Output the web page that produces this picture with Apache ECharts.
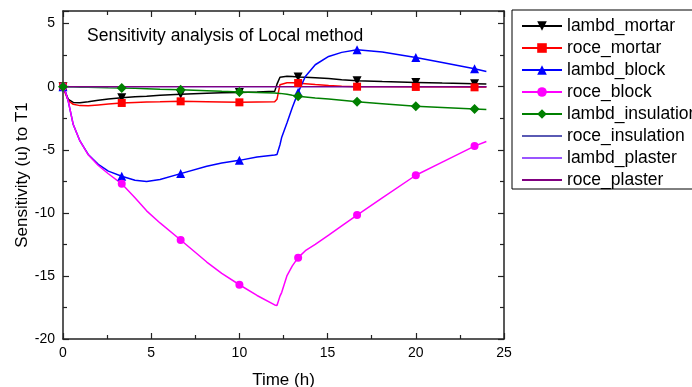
<!DOCTYPE html>
<html>
<head>
<meta charset="utf-8">
<title>Sensitivity analysis of Local method</title>
<script src="https://cdn.jsdelivr.net/npm/echarts@6/dist/echarts.min.js"></script>
<style>
html, body { margin: 0; padding: 0; background: #fff; }
#echart6 { width: 692px; height: 387px; }
</style>
</head>
<body>
<div id="echart6"></div>
<script>
// time (h) of the sampled points, shared by the marked series
var times = [0, 0.15, 0.3, 0.58, 0.96, 1.43, 2.0, 2.57, 3.33, 4.08, 4.74, 5.5, 6.67, 8.15, 9, 10, 11,
	12.0, 12.13, 12.3, 12.4, 12.7, 13.0, 13.33, 13.74, 14.3, 15.06, 15.8, 16.67, 18.1, 20, 21.5, 23.33, 24];
// points that carry a symbol
var markerTimes = [0, 3.33, 6.67, 10, 13.33, 16.67, 20, 23.33];

var lambdMortar = [0, -0.5, -1.0, -1.25, -1.28, -1.2, -1.08, -0.97, -0.87, -0.8, -0.75, -0.68, -0.6, -0.52, -0.49, -0.46, -0.42,
	-0.37, 0.2, 0.75, 0.8, 0.82, 0.8, 0.77, 0.74, 0.7, 0.64, 0.56, 0.48, 0.41, 0.34, 0.29, 0.24, 0.22];
var roceMortar = [0, -0.6, -1.1, -1.4, -1.5, -1.52, -1.45, -1.38, -1.29, -1.25, -1.22, -1.2, -1.16, -1.2, -1.22, -1.24, -1.22,
	-1.2, -1.0, 0.16, 0.27, 0.32, 0.32, 0.29, 0.24, 0.17, 0.1, 0.04, 0.0, -0.01, -0.02, -0.03, -0.05, -0.05];
var lambdBlock = [0, -0.45, -1.16, -3.0, -4.3, -5.37, -6.16, -6.69, -7.1, -7.42, -7.52, -7.35, -6.89, -6.3, -6.05, -5.84, -5.58,
	-5.42, -5.37, -4.6, -4.0, -2.85, -1.65, -0.45, 0.81, 1.74, 2.4, 2.72, 2.92, 2.75, 2.31, 1.92, 1.42, 1.21];
var roceBlock = [0, -0.45, -1.16, -3.0, -4.3, -5.4, -6.25, -6.9, -7.7, -8.8, -9.84, -10.8, -12.15, -13.9, -14.8, -15.7, -16.55,
	-17.3, -17.35, -16.6, -16.3, -14.97, -14.2, -13.55, -13.0, -12.5, -11.77, -11.04, -10.18, -8.82, -7.02, -5.98, -4.71, -4.35];
var lambdInsulation = [0, -0.01, -0.02, -0.03, -0.04, -0.05, -0.06, -0.08, -0.1, -0.13, -0.16, -0.2, -0.24, -0.32, -0.37, -0.42, -0.46,
	-0.5, -0.51, -0.53, -0.54, -0.6, -0.68, -0.76, -0.82, -0.9, -0.98, -1.07, -1.2, -1.35, -1.55, -1.64, -1.76, -1.8];

// the three flat series
var flatTimes = [0, 24];
var roceInsulation = [0, 0];
var lambdPlaster = [0, 0];
var rocePlaster = [0, 0];

var xMin = 0, xMax = 25, xStep = 5;
var yMin = -20, yMax = 6, yStep = 5;

var FONT = 'Liberation Sans, Arial, Helvetica, sans-serif';
var myChart = null;

function build_data(t, v, marked) {
	var out = [];
	for (var i = 0; i < t.length; i++) {
		if (marked && markerTimes.indexOf(t[i]) >= 0) {
			out.push([t[i], v[i]]);
		} else {
			out.push({value: [t[i], v[i]], symbol: 'none'});
		}
	}
	return out;
}

function line_series(name, t, v, color, symbol, size, rotate) {
	return {
		name: name,
		type: 'line',
		data: build_data(t, v, !!symbol),
		symbol: symbol || 'none',
		symbolSize: size || 0,
		symbolRotate: rotate || 0,
		showSymbol: true,
		showAllSymbol: true,
		smooth: false,
		lineStyle: {color: color, width: symbol ? 1.5 : 1.2},
		itemStyle: {color: color},
		emphasis: {disabled: true}
	};
}

function axis_common(pos, showLabel) {
	var isX = (pos === 'top' || pos === 'bottom');
	return {
		type: 'value',
		position: pos,
		min: isX ? xMin : yMin,
		max: isX ? xMax : yMax,
		interval: isX ? xStep : yStep,
		nameMoveOverlap: false,
		axisLine: {show: true, onZero: false, lineStyle: {color: '#222', width: 1.5}},
		axisTick: {show: true, inside: true, length: 6, lineStyle: {color: '#222', width: 1.2}},
		minorTick: {show: true, splitNumber: 2, length: 4, lineStyle: {color: '#222', width: 1.2}},
		splitLine: {show: false},
		minorSplitLine: {show: false},
		axisLabel: {show: showLabel, color: '#000', fontSize: 14, fontFamily: FONT,
			margin: isX ? 7 : 8, showMaxLabel: isX ? true : false}
	};
}

function cal_option() {
	var xBottom = axis_common('bottom', true);
	xBottom.name = 'Time (h)';
	xBottom.nameLocation = 'middle';
	xBottom.nameGap = 33;
	xBottom.nameTextStyle = {fontSize: 17, color: '#000', fontFamily: FONT};

	var yLeft = axis_common('left', true);
	yLeft.name = 'Sensitivity (u) to T1';
	yLeft.nameLocation = 'middle';
	yLeft.nameGap = 32;
	yLeft.nameRotate = 90;
	yLeft.nameTextStyle = {fontSize: 17, color: '#000', fontFamily: FONT};

	// plain line icons in the legend for the series without symbols
	var noMark = {opacity: 0};

	var option = {
		animation: false,
		backgroundColor: '#fff',
		textStyle: {fontFamily: FONT},
		title: {
			text: 'Sensitivity analysis of Local method',
			left: 87,
			top: 27,
			padding: 0,
			textStyle: {fontSize: 17.5, fontWeight: 'normal', color: '#000', fontFamily: FONT}
		},
		legend: {
			orient: 'vertical',
			left: 512,
			top: 10,
			padding: [7, 10, 0, 9],
			itemWidth: 40,
			itemHeight: 12,
			itemGap: 4,
			borderColor: '#000',
			borderWidth: 1,
			textStyle: {fontSize: 17.5, lineHeight: 18, color: '#000', fontFamily: FONT},
			data: ['lambd_mortar', 'roce_mortar', 'lambd_block', 'roce_block', 'lambd_insulation',
				{name: 'roce_insulation', itemStyle: noMark},
				{name: 'lambd_plaster', itemStyle: noMark},
				{name: 'roce_plaster', itemStyle: noMark}]
		},
		grid: {left: 63, right: 188, top: 11, bottom: 48, containLabel: false, outerBoundsMode: 'none'},
		xAxis: [xBottom, axis_common('top', false)],
		yAxis: [yLeft, axis_common('right', false)],
		series: [
			line_series('lambd_mortar', times, lambdMortar, '#000000', 'triangle', 9, 180),
			line_series('roce_mortar', times, roceMortar, '#ff0000', 'rect', 8),
			line_series('lambd_block', times, lambdBlock, '#0000ff', 'triangle', 9),
			line_series('roce_block', times, roceBlock, '#ff00ff', 'circle', 8),
			line_series('lambd_insulation', times, lambdInsulation, '#008000', 'diamond', 10),
			line_series('roce_insulation', flatTimes, roceInsulation, '#5a5ab4'),
			line_series('lambd_plaster', flatTimes, lambdPlaster, '#9a55ff'),
			line_series('roce_plaster', flatTimes, rocePlaster, '#800080')
		]
	};
	return option;
}

function draw_charts() {
	myChart = echarts.init(document.getElementById('echart6'), null, {renderer: 'canvas'});
	myChart.setOption(cal_option());
	window.onresize = function () {
		myChart.resize();
	};
}

draw_charts();
</script>
</body>
</html>
